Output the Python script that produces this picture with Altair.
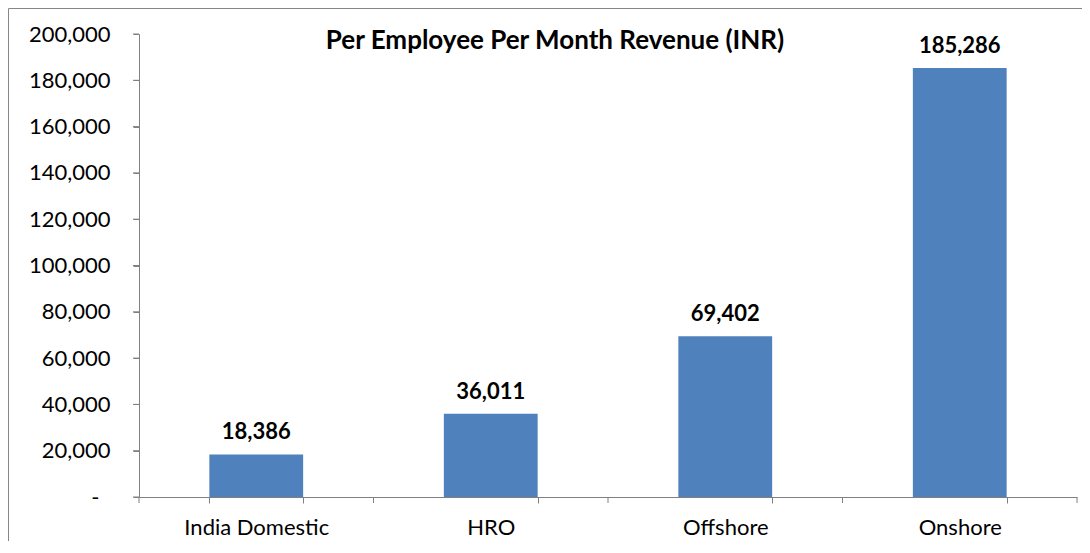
import altair as alt
import pandas as pd

categories = ["India Domestic", "HRO", "Offshore", "Onshore"]
values = [18386, 36011, 69402, 185286]
y_ticks = list(range(0, 200001, 20000))
title_text = "Per Employee Per Month Revenue (INR)"

df = pd.DataFrame({"cat": categories, "val": values})
df_yt = pd.DataFrame({"val": y_ticks})
df_xt = pd.DataFrame({"cat": categories})
W, H = 938, 463
FONT = "Lato"
GRAY = "#808080"
P_IN, P_OUT = 0.6, 0.3
STEP = W / (len(categories) - P_IN + 2 * P_OUT)
HALF_GAP = STEP * P_OUT  # distance from band edge to category boundary

x_scale = alt.Scale(paddingInner=P_IN, paddingOuter=P_OUT)
y_scale = alt.Scale(domain=[0, 200000], nice=False)

x_axis = alt.Axis(labelAngle=0, tickBand="extent", labelFontSize=22, labelFont=FONT,
                  labelColor="black", domainColor=GRAY, tickColor=GRAY, tickSize=6,
                  ticks=True, tickWidth=1, tickOpacity=1, domainWidth=1,
                  labelPadding=14, grid=False)
y_axis = alt.Axis(values=y_ticks,
                  labelExpr="datum.value == 0 ? '-' : format(datum.value, ',')",
                  labelFontSize=22, labelFont=FONT, labelColor="black",
                  ticks=True, tickWidth=1, tickOpacity=1, domainWidth=1,
                  domainColor=GRAY, tickColor=GRAY, tickSize=6,
                  labelPadding={"condition": {"test": "datum.value == 0", "value": 34}, "value": 23},
                  grid=False)

x = alt.X("cat:N", sort=categories, title=None, scale=x_scale, axis=x_axis)
y = alt.Y("val:Q", title=None, scale=y_scale, axis=y_axis)

bars = alt.Chart(df).mark_bar(color="#4F81BD").encode(x=x, y=y)
labels = alt.Chart(df).mark_text(fontSize=22, fontWeight="bold", font=FONT, baseline="bottom",
                                 dy=-10, color="black").encode(
    x=x, y=y, text=alt.Text("val:Q", format=","))

# explicit tick stubs (same positions as the axis ticks)
ytick_marks = alt.Chart(df_yt).mark_rule(color=GRAY, strokeWidth=1).encode(
    y=y, x=alt.value(-6), x2=alt.value(0))
xtick_marks = alt.Chart(df_xt).mark_rule(color=GRAY, strokeWidth=1, xOffset=-HALF_GAP).encode(
    x=alt.X("cat:N", sort=categories, title=None, scale=x_scale, axis=x_axis, bandPosition=0),
    y=alt.value(H), y2=alt.value(H + 6))
xtick_last = alt.Chart(df_xt.tail(1)).mark_rule(color=GRAY, strokeWidth=1, xOffset=HALF_GAP).encode(
    x=alt.X("cat:N", sort=categories, title=None, scale=x_scale, axis=x_axis, bandPosition=1),
    y=alt.value(H), y2=alt.value(H + 6))

border = alt.Chart(pd.DataFrame({"a": [0]})).mark_rect(fill=None, stroke="#868686", strokeWidth=1).encode(
    x=alt.value(-130.5), x2=alt.value(W + 60), y=alt.value(-25.5), y2=alt.value(H + 80))

title = alt.Chart(pd.DataFrame({"t": [title_text]})).mark_text(
    fontSize=26, fontWeight="bold", font=FONT, baseline="middle", align="center", color="black").encode(
    x=alt.value(416), y=alt.value(7), text="t:N")

chart = alt.layer(border, bars, labels, ytick_marks, xtick_marks, xtick_last, title).properties(
    width=W, height=H,
    autosize=alt.AutoSizeParams(type="none"),
    padding={"left": 131, "top": 26, "right": 5, "bottom": 44},
    background="white",
).configure_view(stroke=None)

chart.save("out.html", embed_options={"renderer": "svg", "actions": False})
